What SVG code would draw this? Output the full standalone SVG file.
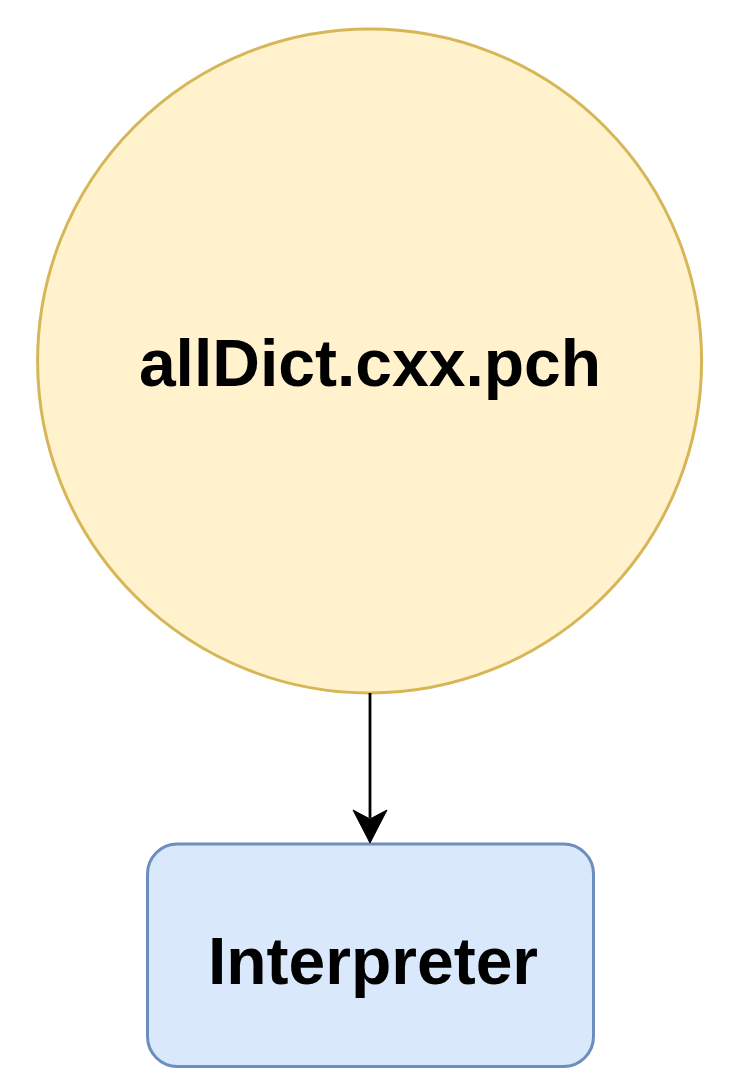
<svg xmlns="http://www.w3.org/2000/svg" width="734" height="1086" viewBox="0 0 734 1086">
<style>
.lbl{font-family:"Liberation Sans",Arial,Helvetica,sans-serif;font-weight:bold;font-size:66px;fill:#000;text-anchor:middle}
</style>
<rect width="734" height="1086" fill="#fff"/>
<g id="node-pch">
<circle cx="369.6" cy="361" r="332" fill="#fff2cc" stroke="#d6b656" stroke-width="3"/>
<text class="lbl" x="370" y="386">allDict.cxx.pch</text>
</g>
<g id="node-interpreter">
<rect x="147.5" y="844" width="446" height="222.5" rx="30" ry="30" fill="#dae8fc" stroke="#6c8ebf" stroke-width="3"/>
<text class="lbl" x="373" y="984">Interpreter</text>
</g>
<g id="connectors">
<line x1="370" y1="693" x2="370" y2="818" stroke="#000" stroke-width="2.8"/>
<path d="M370,843 L353,810 L370,819 L387,810 Z" fill="#000" stroke="#000" stroke-width="1"/>
</g>
</svg>
